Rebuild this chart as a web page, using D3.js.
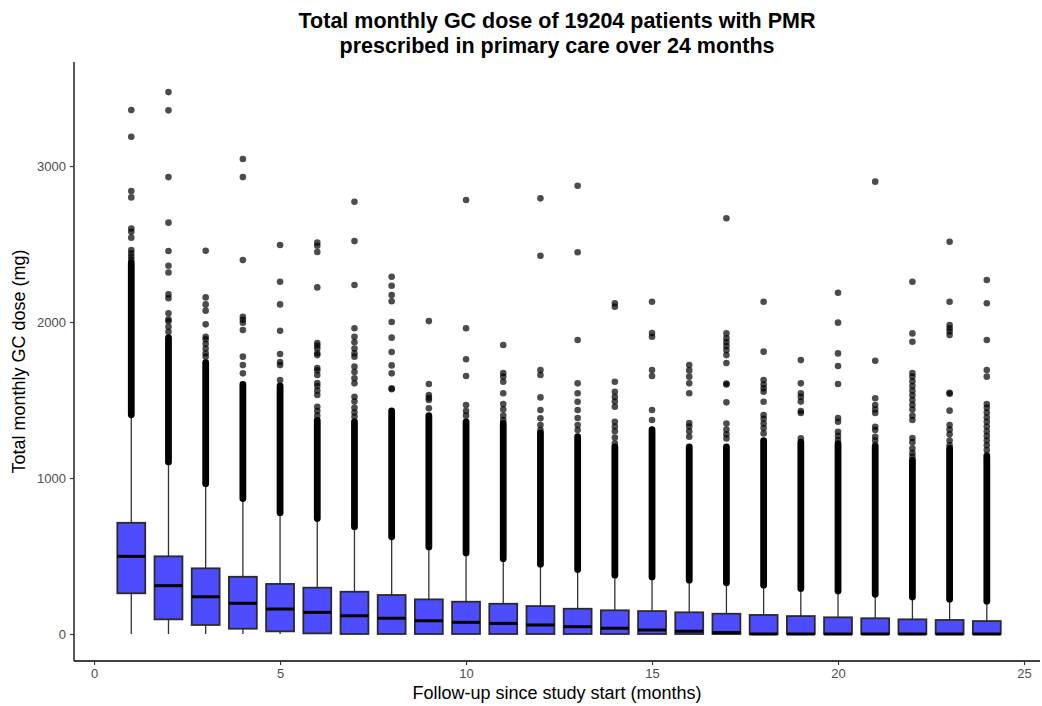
<!DOCTYPE html>
<html>
<head>
<meta charset="utf-8">
<script src="https://cdn.jsdelivr.net/npm/d3@7"></script>
<style>
  html, body { margin: 0; padding: 0; background: #fff; }
  svg { display: block; font-family: "Liberation Sans", Arial, Helvetica, sans-serif; }
</style>
</head>
<body>
<svg id="chart" width="1042" height="706"></svg>
<script>
// Month of follow-up for each box
const months = [1, 2, 3, 4, 5, 6, 7, 8, 9, 10, 11, 12, 13, 14, 15, 16, 17, 18, 19, 20, 21, 22, 23, 24];

// Box statistics (mg)
const q1      = [261, 94, 58, 34, 17, 4, 0, 0, 0, 0, 0, 0, 0, 0, 0, 0, 0, 0, 0, 0, 0, 0, 0, 0];
const medians = [498, 310, 239, 197, 160, 139, 117, 101, 85, 75, 68, 58, 47, 37, 26, 18, 9, 0, 0, 0, 0, 0, 0, 0];
const q3      = [713, 498, 421, 367, 321, 297, 271, 250, 222, 207, 194, 179, 162, 152, 147, 139, 130, 122, 115, 107, 101, 94, 90, 83];
const whiskerLow  = [0, 0, 0, 0, 0, 0, 0, 0, 0, 0, 0, 0, 0, 0, 0, 0, 0, 0, 0, 0, 0, 0, 0, 0];
const whiskerHigh = [1385, 1083, 944, 848, 758, 720, 667, 603, 538, 500, 463, 428, 393, 357, 346, 325, 308, 293, 271, 256, 235, 218, 203, 190];

// Span of the outliers that pile up into a solid column (lowest and highest)
const packedLow  = [1405, 1103, 964, 868, 778, 740, 687, 623, 558, 520, 483, 448, 413, 377, 366, 345, 328, 313, 291, 276, 255, 238, 223, 210];
const packedHigh = [2380, 1900, 1740, 1600, 1590, 1370, 1360, 1430, 1400, 1360, 1350, 1290, 1265, 1200, 1310, 1200, 1200, 1240, 1230, 1220, 1200, 1115, 1190, 1137];

// Separate outliers above the packed column, per month
const outliers = [
  [2400, 2420, 2440, 2462, 2541, 2579, 2600, 2799, 2840, 3188, 3359],
  [1938, 1970, 2005, 2017, 2056, 2152, 2177, 2318, 2361, 2455, 2637, 2929, 3357, 3474],
  [1778, 1800, 1830, 1860, 1890, 1906, 1985, 2073, 2113, 2158, 2457],
  [1671, 1724, 1778, 1949, 1995, 2015, 2034, 2397, 2929, 3045],
  [1628, 1724, 1744, 1795, 1944, 2113, 2258, 2494],
  [1400, 1430, 1457, 1532, 1560, 1590, 1609, 1660, 1690, 1705, 1788, 1800, 1830, 1850, 1865, 2222, 2449, 2489, 2509],
  [1393, 1420, 1450, 1490, 1521, 1607, 1640, 1680, 1714, 1778, 1800, 1830, 1870, 1906, 1960, 2237, 2519, 2771],
  [1569, 1575, 1671, 1722, 1808, 1900, 2000, 2133, 2173, 2233, 2290],
  [1447, 1500, 1515, 1532, 1603, 2006],
  [1400, 1430, 1468, 1654, 1761, 1960, 2782],
  [1372, 1400, 1440, 1474, 1543, 1617, 1650, 1673, 1853],
  [1308, 1340, 1383, 1436, 1517, 1660, 1692, 2425, 2793],
  [1308, 1340, 1385, 1436, 1489, 1543, 1607, 1885, 2447, 2874],
  [1222, 1260, 1300, 1330, 1361, 1457, 1490, 1520, 1553, 1617, 2098, 2120],
  [1372, 1436, 1654, 1692, 1906, 1929, 2130],
  [1265, 1300, 1330, 1352, 1543, 1607, 1650, 1690, 1724],
  [1254, 1280, 1310, 1350, 1485, 1600, 1606, 1737, 1788, 1820, 1846, 1870, 1895, 1927, 2665],
  [1286, 1320, 1350, 1380, 1404, 1489, 1553, 1575, 1600, 1628, 1810, 2130],
  [1254, 1417, 1430, 1490, 1520, 1543, 1607, 1756],
  [1244, 1270, 1297, 1361, 1385, 1603, 1718, 1799, 1996, 2188],
  [1212, 1240, 1265, 1308, 1329, 1417, 1440, 1468, 1511, 1752, 2900],
  [1137, 1160, 1190, 1230, 1256, 1372, 1400, 1440, 1470, 1500, 1530, 1560, 1590, 1620, 1650, 1673, 1874, 1927, 2258],
  [1210, 1240, 1280, 1310, 1340, 1432, 1540, 1546, 1917, 1940, 1960, 1981, 2130, 2515],
  [1147, 1180, 1210, 1240, 1270, 1300, 1330, 1360, 1390, 1420, 1450, 1474, 1650, 1692, 1885, 2120, 2269]
];

const xTicks = [0, 5, 10, 15, 20, 25];
const yTicks = [0, 1000, 2000, 3000];

const titleLines = ["Total monthly GC dose of 19204 patients with PMR", "prescribed in primary care over 24 months"];
const xTitle = "Follow-up since study start (months)";
const yTitle = "Total monthly GC dose (mg)";

// Layout
const panel = { left: 74, right: 1040, top: 62, bottom: 661 };
const boxWidth = 0.75;   // in months
const pointR = 3.3;

const svg = d3.select("#chart");

const x = d3.scaleLinear().domain([-0.54, 25.43]).range([panel.left, panel.right]);
const y = d3.scaleLinear().domain([-173, 3667]).range([panel.bottom, panel.top]);

const rows = months.map((m, i) => ({
  m, q1: q1[i], med: medians[i], q3: q3[i],
  lo: whiskerLow[i], hi: whiskerHigh[i],
  pLo: packedLow[i], pHi: packedHigh[i], out: outliers[i]
}));

const g = svg.append("g");

// Whiskers
g.selectAll("line.whisker-up").data(rows).join("line")
  .attr("x1", d => x(d.m)).attr("x2", d => x(d.m))
  .attr("y1", d => y(d.q3)).attr("y2", d => y(d.hi))
  .attr("stroke", "#333").attr("stroke-width", 1.3);
g.selectAll("line.whisker-down").data(rows.filter(d => d.q1 > d.lo)).join("line")
  .attr("x1", d => x(d.m)).attr("x2", d => x(d.m))
  .attr("y1", d => y(d.q1)).attr("y2", d => y(d.lo))
  .attr("stroke", "#333").attr("stroke-width", 1.3);

// Outliers: packed columns, drawn as the envelope of their overlapping points
g.selectAll("line.packed").data(rows).join("line")
  .attr("x1", d => x(d.m)).attr("x2", d => x(d.m))
  .attr("y1", d => y(d.pLo)).attr("y2", d => y(d.pHi))
  .attr("stroke", "#000").attr("stroke-width", pointR * 2 + 0.2)
  .attr("stroke-linecap", "round");

// Outliers: individual points
g.selectAll("g.out").data(rows).join("g")
  .selectAll("circle").data(d => d.out.map(v => ({ m: d.m, v }))).join("circle")
  .attr("cx", d => x(d.m)).attr("cy", d => y(d.v)).attr("r", pointR)
  .attr("fill", "#000").attr("fill-opacity", 0.7);

// Boxes
const half = boxWidth / 2;
g.selectAll("rect.box").data(rows).join("rect")
  .attr("x", d => x(d.m - half)).attr("width", d => x(d.m + half) - x(d.m - half))
  .attr("y", d => y(d.q3)).attr("height", d => y(d.q1) - y(d.q3))
  .attr("fill", "#4d4dff").attr("stroke", "#2b2b2b").attr("stroke-width", 1.8);

// Medians
g.selectAll("line.median").data(rows).join("line")
  .attr("x1", d => x(d.m - half)).attr("x2", d => x(d.m + half))
  .attr("y1", d => y(d.med)).attr("y2", d => y(d.med))
  .attr("stroke", "#000").attr("stroke-width", 3);

// Axes
const xAxis = d3.axisBottom(x).tickValues(xTicks).tickFormat(d3.format("d"))
  .tickSize(4).tickPadding(4).tickSizeOuter(0);
const yAxis = d3.axisLeft(y).tickValues(yTicks).tickFormat(d3.format("d"))
  .tickSize(4).tickPadding(4).tickSizeOuter(0);

const gx = svg.append("g").attr("transform", `translate(0,${panel.bottom})`).call(xAxis);
const gy = svg.append("g").attr("transform", `translate(${panel.left},0)`).call(yAxis);

[gx, gy].forEach(ax => {
  ax.select(".domain").attr("stroke", "#000").attr("stroke-width", 1.3);
  ax.selectAll(".tick line").attr("stroke", "#333").attr("stroke-width", 1.1);
  ax.selectAll(".tick text").attr("fill", "#4d4d4d").style("font-size", "13px")
    .style("font-family", '"Liberation Sans", Arial, Helvetica, sans-serif');
});
// axis lines span the full panel
gy.select(".domain").attr("d", `M0,${panel.top}V${panel.bottom}`);
gx.select(".domain").attr("d", `M${panel.left},0H${panel.right}`);

// Titles
const cx = (panel.left + panel.right) / 2;
svg.append("text").attr("x", cx).attr("y", 28).attr("text-anchor", "middle")
  .style("font-size", "21.5px").style("font-weight", "bold").attr("fill", "#000").text(titleLines[0]);
svg.append("text").attr("x", cx).attr("y", 53).attr("text-anchor", "middle")
  .style("font-size", "21.5px").style("font-weight", "bold").attr("fill", "#000").text(titleLines[1]);

svg.append("text").attr("x", cx).attr("y", 699).attr("text-anchor", "middle")
  .style("font-size", "18px").attr("fill", "#000").text(xTitle);

svg.append("text").attr("transform", `translate(25,${(panel.top + panel.bottom) / 2}) rotate(-90)`)
  .attr("text-anchor", "middle").style("font-size", "18px").attr("fill", "#000").text(yTitle);
</script>
</body>
</html>
